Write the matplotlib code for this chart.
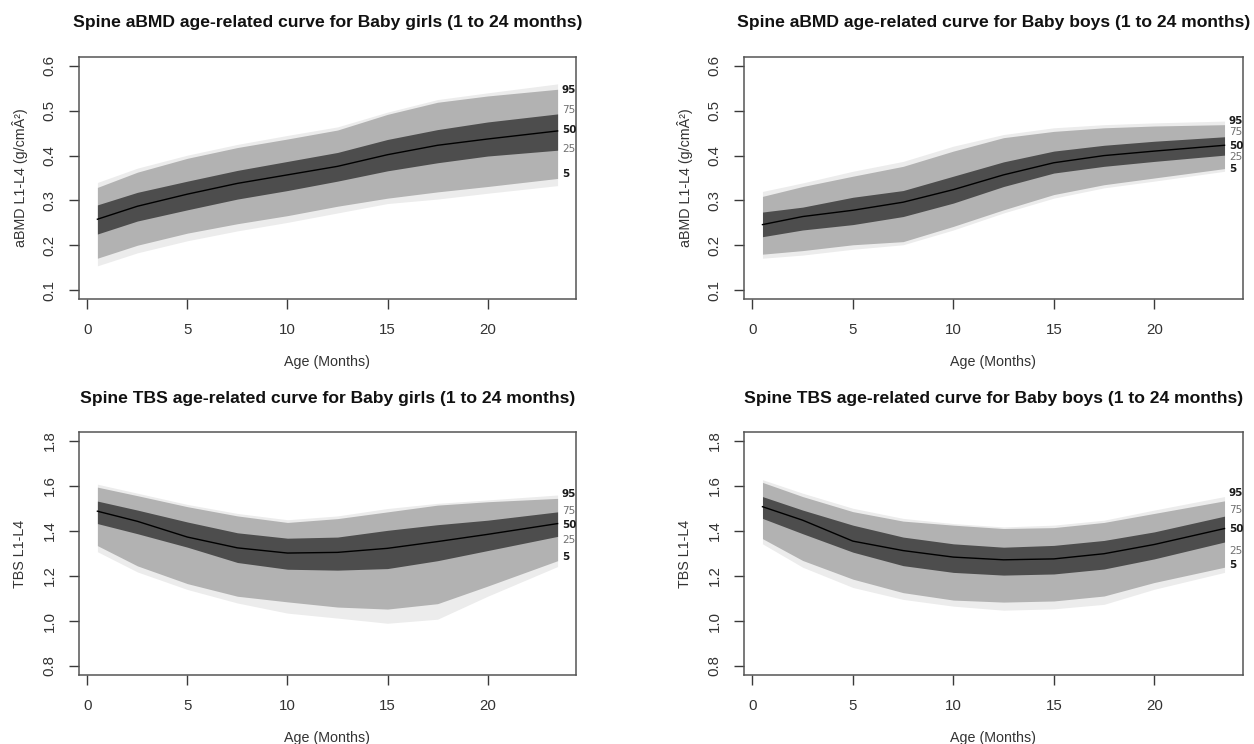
import matplotlib
matplotlib.use("Agg")
import matplotlib.pyplot as plt
import numpy as np

plt.rcParams['font.family'] = ['Liberation Sans', 'DejaVu Sans']

months = [0.5, 2.5, 5, 7.5, 10, 12.5, 15, 17.5, 20, 23.5]

# ---- Spine aBMD, girls ----
g_bmd_hi  = [0.340, 0.372, 0.401, 0.425, 0.445, 0.464, 0.497, 0.525, 0.540, 0.560]
g_bmd_p95 = [0.329, 0.363, 0.394, 0.418, 0.437, 0.457, 0.492, 0.519, 0.533, 0.548]
g_bmd_p75 = [0.290, 0.318, 0.343, 0.367, 0.387, 0.407, 0.436, 0.458, 0.475, 0.493]
g_bmd_p50 = [0.258, 0.287, 0.314, 0.338, 0.357, 0.376, 0.402, 0.423, 0.437, 0.455]
g_bmd_p25 = [0.225, 0.254, 0.279, 0.303, 0.322, 0.343, 0.366, 0.384, 0.399, 0.412]
g_bmd_p5  = [0.171, 0.200, 0.227, 0.248, 0.266, 0.287, 0.305, 0.319, 0.331, 0.349]
g_bmd_lo  = [0.154, 0.183, 0.210, 0.232, 0.251, 0.272, 0.293, 0.303, 0.316, 0.333]
g_bmd_lab = [0.546, 0.501, 0.457, 0.414, 0.360]

# ---- Spine aBMD, boys ----
b_bmd_hi  = [0.320, 0.339, 0.365, 0.387, 0.421, 0.447, 0.462, 0.469, 0.473, 0.477]
b_bmd_p95 = [0.309, 0.331, 0.354, 0.376, 0.410, 0.440, 0.454, 0.462, 0.466, 0.469]
b_bmd_p75 = [0.274, 0.285, 0.307, 0.322, 0.354, 0.386, 0.410, 0.423, 0.432, 0.442]
b_bmd_p50 = [0.246, 0.264, 0.278, 0.296, 0.324, 0.357, 0.384, 0.400, 0.410, 0.423]
b_bmd_p25 = [0.219, 0.234, 0.246, 0.264, 0.294, 0.331, 0.361, 0.376, 0.387, 0.401]
b_bmd_p5  = [0.180, 0.188, 0.201, 0.208, 0.242, 0.279, 0.313, 0.335, 0.350, 0.371]
b_bmd_lo  = [0.171, 0.178, 0.191, 0.201, 0.234, 0.272, 0.305, 0.328, 0.343, 0.365]
b_bmd_lab = [0.477, 0.452, 0.422, 0.397, 0.369]

# ---- Spine TBS, girls ----
g_tbs_hi  = [1.608, 1.568, 1.518, 1.478, 1.450, 1.467, 1.500, 1.523, 1.538, 1.560]
g_tbs_p95 = [1.595, 1.557, 1.508, 1.467, 1.438, 1.455, 1.485, 1.515, 1.530, 1.545]
g_tbs_p75 = [1.533, 1.493, 1.440, 1.392, 1.368, 1.373, 1.403, 1.428, 1.448, 1.485]
g_tbs_p50 = [1.488, 1.443, 1.373, 1.325, 1.302, 1.305, 1.323, 1.353, 1.385, 1.433]
g_tbs_p25 = [1.433, 1.388, 1.328, 1.260, 1.230, 1.226, 1.233, 1.268, 1.313, 1.376]
g_tbs_p5  = [1.335, 1.245, 1.166, 1.110, 1.085, 1.062, 1.053, 1.077, 1.155, 1.268]
g_tbs_lo  = [1.308, 1.218, 1.140, 1.080, 1.035, 1.013, 0.990, 1.008, 1.110, 1.242]
g_tbs_lab = [1.563, 1.490, 1.425, 1.362, 1.283]

# ---- Spine TBS, boys ----
b_tbs_hi  = [1.628, 1.568, 1.501, 1.456, 1.433, 1.418, 1.426, 1.448, 1.493, 1.553]
b_tbs_p95 = [1.616, 1.553, 1.486, 1.444, 1.426, 1.411, 1.415, 1.438, 1.478, 1.534]
b_tbs_p75 = [1.553, 1.493, 1.426, 1.373, 1.343, 1.328, 1.336, 1.358, 1.396, 1.466]
b_tbs_p50 = [1.508, 1.448, 1.355, 1.313, 1.284, 1.272, 1.276, 1.299, 1.340, 1.411]
b_tbs_p25 = [1.456, 1.388, 1.306, 1.246, 1.216, 1.204, 1.209, 1.231, 1.276, 1.351]
b_tbs_p5  = [1.366, 1.269, 1.186, 1.126, 1.093, 1.084, 1.089, 1.111, 1.171, 1.239]
b_tbs_lo  = [1.343, 1.239, 1.149, 1.096, 1.066, 1.048, 1.054, 1.074, 1.141, 1.216]
b_tbs_lab = [1.568, 1.493, 1.408, 1.310, 1.251]

pct_labels = ["95", "75", "50", "25", "5"]
x_ticks = [0, 5, 10, 15, 20]
bmd_ticks = [0.1, 0.2, 0.3, 0.4, 0.5, 0.6]
tbs_ticks = [0.8, 1.0, 1.2, 1.4, 1.6, 1.8]

panels = [
    ("Spine aBMD age-related curve for Baby girls (1 to 24 months)", "aBMD L1-L4 (g/cmÂ²)",
     (g_bmd_hi, g_bmd_p95, g_bmd_p75, g_bmd_p50, g_bmd_p25, g_bmd_p5, g_bmd_lo), g_bmd_lab, bmd_ticks),
    ("Spine aBMD age-related curve for Baby boys (1 to 24 months)", "aBMD L1-L4 (g/cmÂ²)",
     (b_bmd_hi, b_bmd_p95, b_bmd_p75, b_bmd_p50, b_bmd_p25, b_bmd_p5, b_bmd_lo), b_bmd_lab, bmd_ticks),
    ("Spine TBS age-related curve for Baby girls (1 to 24 months)", "TBS L1-L4",
     (g_tbs_hi, g_tbs_p95, g_tbs_p75, g_tbs_p50, g_tbs_p25, g_tbs_p5, g_tbs_lo), g_tbs_lab, tbs_ticks),
    ("Spine TBS age-related curve for Baby boys (1 to 24 months)", "TBS L1-L4",
     (b_tbs_hi, b_tbs_p95, b_tbs_p75, b_tbs_p50, b_tbs_p25, b_tbs_p5, b_tbs_lo), b_tbs_lab, tbs_ticks),
]

W, H = 1254, 744
fig = plt.figure(figsize=(W / 100, H / 100), dpi=100)
fig.patch.set_facecolor("white")

# pixel boxes: left, right, top, bottom
boxes = [(79, 576, 57, 299), (744, 1243, 57, 299), (79, 576, 432, 675), (744, 1243, 432, 675)]

LIGHT, MID, DARK = "#ececec", "#b2b2b2", "#4d4d4d"
AXC = "#3a3a3a"

for (title, ylab, series, labs, yt), (l, r, t, b) in zip(panels, boxes):
    ax = fig.add_axes([l / W, 1 - b / H, (r - l) / W, (b - t) / H])
    hi, p95, p75, p50, p25, p5, lo = [np.asarray(s) for s in series]
    x = np.asarray(months)
    ax.fill_between(x, lo, hi, color=LIGHT, lw=0)
    ax.fill_between(x, p5, p95, color=MID, lw=0)
    ax.fill_between(x, p25, p75, color=DARK, lw=0)
    ax.plot(x, p50, color="black", lw=1.0)

    xr = x.max() - x.min()
    ax.set_xlim(x.min() - 0.04 * xr, x.max() + 0.04 * xr)
    yr = yt[-1] - yt[0]
    ax.set_ylim(yt[0] - 0.04 * yr, yt[-1] + 0.04 * yr)
    ax.set_xticks(x_ticks)
    ax.set_yticks(yt)
    ax.set_xticklabels([str(v) for v in x_ticks])
    ax.set_yticklabels([f"{v:.1f}" for v in yt], rotation=90, va="center")
    ax.tick_params(axis="both", direction="out", length=7, width=1, color=AXC,
                   labelsize=10.8, labelcolor="#333333")
    ax.tick_params(axis="x", pad=10)
    ax.tick_params(axis="y", pad=9)
    for sp in ax.spines.values():
        sp.set_color("#555555")
        sp.set_linewidth(1.1)

    for lab, yv in zip(pct_labels, labs):
        strong = lab in ("95", "50", "5")
        ax.text(23.72, yv, lab, fontsize=7.5, family=["DejaVu Sans"],
                fontweight="bold" if strong else "normal",
                color="#1a1a1a" if strong else "#707070", ha="left", va="center")

    ax.text(0.5, 1 + 34 / (b - t), title, transform=ax.transAxes, ha="center", va="center",
            fontsize=12.6, fontweight="bold", color="#111111")
    ax.text(0.5, -63 / (b - t), "Age (Months)", transform=ax.transAxes, ha="center",
            va="center", fontsize=10.3, color="#333333")
    ax.text(-0.118, 0.5, ylab, transform=ax.transAxes, rotation=90, ha="center",
            va="center", fontsize=10.3, color="#333333")

fig.savefig("out.png", dpi=100)
